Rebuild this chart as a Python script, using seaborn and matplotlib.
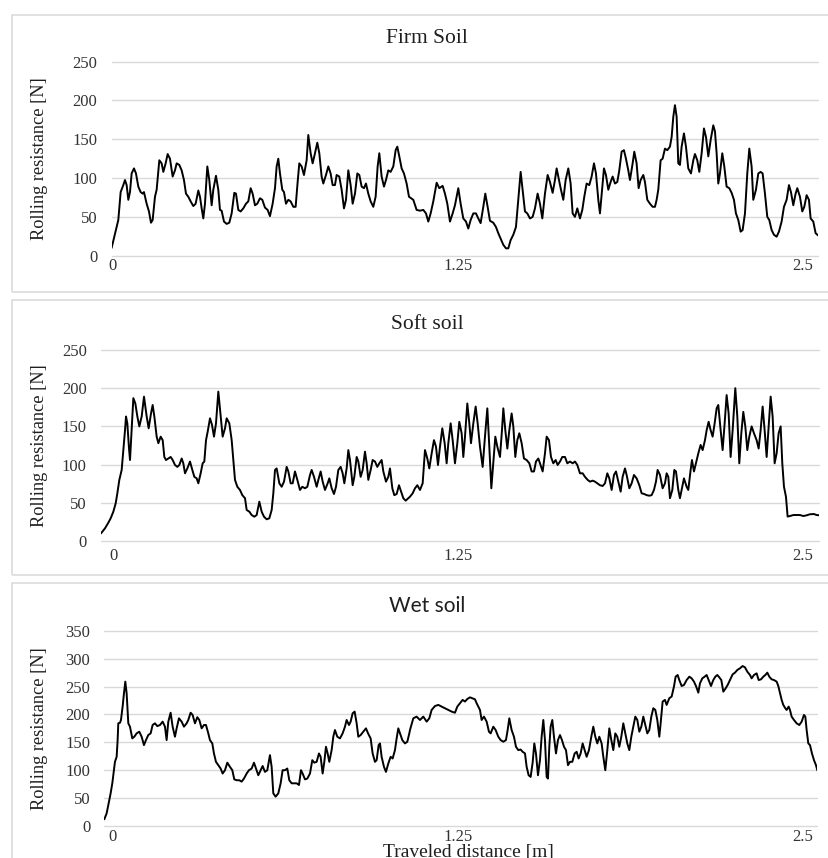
import matplotlib
matplotlib.use("Agg")
import matplotlib.pyplot as plt
import seaborn as sns
from matplotlib.patches import Rectangle

# ---------------- data ----------------
x_ticks = [0, 1.25, 2.5]
x_tick_labels = ["0", "1.25", "2.5"]
y_ticks_firm = [0, 50, 100, 150, 200, 250]
y_ticks_soft = [0, 50, 100, 150, 200, 250]
y_ticks_wet = [0, 50, 100, 150, 200, 250, 300, 350]
titles = ["Firm Soil", "Soft soil", "Wet soil"]
y_label = "Rolling resistance [N]"
x_label = "Traveled distance [m]"

firm_dist = [
    -0.005, 0.0133, 0.0193, 0.0278, 0.0374, 0.0435, 0.0495, 0.0556, 0.0616, 0.0676,
    0.0761, 0.0833, 0.0918, 0.1002, 0.1075, 0.1123, 0.1220, 0.1304, 0.1377, 0.1437,
    0.1522, 0.1582, 0.1679, 0.1763, 0.1824, 0.1908, 0.1981, 0.2065, 0.2162, 0.2246,
    0.2307, 0.2403, 0.2488, 0.2572, 0.2645, 0.2729, 0.2814, 0.2911, 0.2995, 0.3092,
    0.3152, 0.3213, 0.3273, 0.3333, 0.3418, 0.3490, 0.3575, 0.3635, 0.3732, 0.3816,
    0.3877, 0.3937, 0.4022, 0.4118, 0.4215, 0.4300, 0.4396, 0.4457, 0.4541, 0.4626,
    0.4722, 0.4819, 0.4903, 0.4988, 0.5060, 0.5145, 0.5229, 0.5326, 0.5411, 0.5507,
    0.5604, 0.5688, 0.5785, 0.5870, 0.5930, 0.5990, 0.6051, 0.6135, 0.6196, 0.6268,
    0.6353, 0.6437, 0.6534, 0.6618, 0.6691, 0.6751, 0.6836, 0.6920, 0.7017, 0.7077,
    0.7162, 0.7234, 0.7319, 0.7403, 0.7476, 0.7560, 0.7621, 0.7717, 0.7802, 0.7886,
    0.7959, 0.8043, 0.8104, 0.8200, 0.8285, 0.8370, 0.8442, 0.8527, 0.8611, 0.8684,
    0.8768, 0.8853, 0.8925, 0.9010, 0.9094, 0.9167, 0.9251, 0.9336, 0.9432, 0.9517,
    0.9589, 0.9650, 0.9734, 0.9819, 0.9891, 0.9976, 1.0060, 1.0157, 1.0242, 1.0302,
    1.0374, 1.0459, 1.0543, 1.0640, 1.0725,
    1.0882, 1.1002, 1.1123, 1.1244, 1.1341, 1.1425, 1.1510, 1.1606, 1.1727, 1.1824,
    1.1944, 1.2029, 1.2114, 1.2210, 1.2307, 1.2391, 1.2512, 1.2597, 1.2693, 1.2790,
    1.2874, 1.2959, 1.3056, 1.3152, 1.3237, 1.3321, 1.3418, 1.3490, 1.3575, 1.3659,
    1.3780, 1.3877, 1.3961, 1.4046, 1.4143, 1.4239, 1.4324, 1.4408, 1.4505, 1.4601,
    1.4686, 1.4771, 1.4843, 1.4928, 1.5012, 1.5109, 1.5205, 1.5290, 1.5386, 1.5471,
    1.5556, 1.5652, 1.5749, 1.5833, 1.5930, 1.6014, 1.6075, 1.6159, 1.6232, 1.6316,
    1.6401, 1.6498, 1.6582, 1.6655, 1.6739, 1.6824, 1.6920, 1.7005, 1.7077, 1.7162,
    1.7258, 1.7343, 1.7428, 1.7500, 1.7585, 1.7645, 1.7729, 1.7790, 1.7862, 1.7947,
    1.8031, 1.8104, 1.8188, 1.8273, 1.8345, 1.8430, 1.8514, 1.8587, 1.8671, 1.8732,
    1.8829, 1.8889, 1.8973, 1.9046, 1.9118, 1.9215, 1.9275, 1.9360, 1.9457, 1.9553,
    1.9638, 1.9698, 1.9758, 1.9843, 1.9915, 2.0000, 2.0085, 2.0181, 2.0242, 2.0302,
    2.0362, 2.0423, 2.0483, 2.0543, 2.0604, 2.0688, 2.0761, 2.0845, 2.0942, 2.1027,
    2.1087, 2.1171, 2.1244, 2.1329, 2.1413, 2.1486, 2.1570, 2.1655, 2.1751, 2.1812,
    2.1872, 2.1932, 2.1993, 2.2077, 2.2150, 2.2234, 2.2331, 2.2415, 2.2500, 2.2572,
    2.2657, 2.2742, 2.2814, 2.2899, 2.2983, 2.3056, 2.3140, 2.3200, 2.3297, 2.3382,
    2.3466, 2.3539, 2.3623, 2.3708, 2.3780, 2.3865, 2.3949, 2.4046, 2.4130, 2.4227,
    2.4312, 2.4408, 2.4493, 2.4565, 2.4650, 2.4734, 2.4795, 2.4891, 2.4976, 2.5048,
    2.5133, 2.5217, 2.5278, 2.5374, 2.5459, 2.5556,
]
firm_force = [
    10, 37, 46, 82, 91, 97.5, 91, 72, 82, 106,
    112.5, 106, 89, 82, 80, 82, 67, 57, 42.5, 46,
    76, 85, 123, 119, 108, 119, 131, 125, 102, 110,
    119, 117, 110, 97.5, 80, 76, 70, 64, 67, 84,
    76, 61, 48, 67, 115, 97.5, 65, 85, 103, 85,
    59, 58, 44, 41, 42.5, 54.5, 81, 80, 59, 57,
    61, 67, 70, 87, 80, 65, 67, 74, 72, 62,
    59, 51, 67, 87, 115, 125, 106, 85, 82, 67,
    72, 70, 63, 63, 95, 119, 115, 104, 123, 155.5,
    132, 119, 132, 145.6, 132, 102, 93, 104, 115, 106,
    91, 91, 104, 102, 85, 61, 72, 110, 91, 67,
    80, 106, 104, 89, 87, 93, 80, 70, 63, 76,
    115, 132, 102, 89, 97.5, 110, 108, 115, 136, 140.5,
    128, 112.5, 106, 93, 76,
    72, 59, 58, 59, 54.5, 44, 54.5, 70, 94, 87,
    90, 80, 67, 44, 54.5, 65, 87, 67, 48, 44,
    35, 46, 54.5, 54.5, 48, 42, 63, 80, 63, 45,
    42.5, 37, 29, 22, 14, 9.5, 9.5, 20, 27, 37,
    72, 108, 85, 57, 54.5, 48, 50, 61, 80, 67,
    48, 80, 104, 95, 81, 97.5, 112.5, 97.5, 85, 72,
    97.5, 112.5, 93, 54.5, 50, 61, 48, 59, 76, 93,
    91, 102, 119, 106, 72, 54.5, 89, 112.5, 104, 85,
    95, 102, 93, 95, 110, 134, 136, 125, 110, 97.5,
    119, 134, 119, 87, 97.5, 104, 95, 72, 67, 63,
    63, 72, 85, 123, 125, 138, 136, 140.5, 153, 179,
    194, 179, 119, 117, 140.5, 157.6, 140.5, 112.5, 106, 123,
    131, 123, 108, 132, 164, 153, 128, 149, 168, 160,
    132, 93, 106, 132, 115, 89, 87, 81, 72, 54.5,
    46, 31, 33, 54.5, 106, 138, 115, 72, 85, 106,
    108, 106, 80, 50, 46, 33, 27, 24.5, 31, 44,
    63, 72, 91, 82, 65, 80, 87, 76, 57, 63,
    78, 72, 48, 44, 29, 26,
]

soft_dist = [
    -0.0435, -0.0290, -0.0169, -0.0085, 0.0012, 0.0097, 0.0157, 0.0229, 0.0314, 0.0374,
    0.0435, 0.0471, 0.0519, 0.0580, 0.0616, 0.0676, 0.0737, 0.0809, 0.0882, 0.0954,
    0.1039, 0.1123, 0.1220, 0.1292, 0.1377, 0.1437, 0.1498, 0.1582, 0.1643, 0.1727,
    0.1800, 0.1860, 0.1920, 0.2005, 0.2089, 0.2162, 0.2246, 0.2331, 0.2403, 0.2488,
    0.2548, 0.2609, 0.2693, 0.2790, 0.2874, 0.2947, 0.3031, 0.3092, 0.3176, 0.3249,
    0.3309, 0.3370, 0.3430, 0.3514, 0.3587, 0.3659, 0.3732, 0.3816, 0.3901, 0.3973,
    0.4058, 0.4118, 0.4215, 0.4300, 0.4360, 0.4420, 0.4505, 0.4601, 0.4686, 0.4783,
    0.4843, 0.4940, 0.5024, 0.5121, 0.5205, 0.5302, 0.5386, 0.5471, 0.5568, 0.5664,
    0.5749, 0.5809, 0.5870, 0.5930, 0.6027, 0.6111, 0.6196, 0.6292, 0.6353, 0.6437,
    0.6510, 0.6594, 0.6679, 0.6775, 0.6860, 0.6957, 0.7041, 0.7138, 0.7198, 0.7283,
    0.7379, 0.7440, 0.7524, 0.7597, 0.7681, 0.7778, 0.7838, 0.7923, 0.8007, 0.8080,
    0.8164, 0.8249, 0.8321, 0.8382, 0.8466, 0.8527, 0.8587, 0.8684, 0.8744, 0.8829,
    0.8889, 0.8973, 0.9046, 0.9130, 0.9191, 0.9251, 0.9336, 0.9408, 0.9493, 0.9577,
    0.9650, 0.9734, 0.9795, 0.9891, 0.9976, 1.0036, 1.0121, 1.0193, 1.0278, 1.0362,
    1.0459, 1.0519, 1.0604, 1.0700,
    1.0761, 1.0857, 1.0942, 1.1027, 1.1123, 1.1220, 1.1304, 1.1389, 1.1461, 1.1546,
    1.1630, 1.1703, 1.1775, 1.1848, 1.1932, 1.2017, 1.2089, 1.2150, 1.2234, 1.2307,
    1.2391, 1.2476, 1.2548, 1.2633, 1.2693, 1.2754, 1.2838, 1.2911, 1.2971, 1.3056,
    1.3140, 1.3213, 1.3297, 1.3394, 1.3478, 1.3563, 1.3635, 1.3708, 1.3780, 1.3853,
    1.3925, 1.4022, 1.4094, 1.4143, 1.4215, 1.4288, 1.4360, 1.4444, 1.4505, 1.4577,
    1.4650, 1.4722, 1.4807, 1.4891, 1.4988, 1.5085, 1.5169, 1.5254, 1.5326, 1.5411,
    1.5471, 1.5568, 1.5652, 1.5713, 1.5797, 1.5870, 1.5954, 1.6039, 1.6111, 1.6196,
    1.6280, 1.6377, 1.6461, 1.6558, 1.6655, 1.6739, 1.6824, 1.6920, 1.7017, 1.7101,
    1.7198, 1.7283, 1.7379, 1.7464, 1.7548, 1.7645, 1.7742, 1.7826, 1.7911, 1.7983,
    1.8068, 1.8152, 1.8225, 1.8309, 1.8394, 1.8466, 1.8551, 1.8611, 1.8708, 1.8792,
    1.8877, 1.8973, 1.9070, 1.9155, 1.9251, 1.9336, 1.9432, 1.9517, 1.9601, 1.9674,
    1.9734, 1.9819, 1.9915, 2.0000, 2.0060, 2.0121, 2.0181, 2.0266, 2.0338, 2.0399,
    2.0483, 2.0543, 2.0628, 2.0688, 2.0785, 2.0845, 2.0930, 2.0978, 2.1051, 2.1123,
    2.1208, 2.1292, 2.1365, 2.1449, 2.1510, 2.1582, 2.1655, 2.1727, 2.1800, 2.1872,
    2.1932, 2.2017, 2.2089, 2.2162, 2.2234, 2.2307, 2.2379, 2.2452, 2.2548, 2.2621,
    2.2693, 2.2766, 2.2838, 2.2911, 2.2983, 2.3056, 2.3140, 2.3225, 2.3321, 2.3394,
    2.3466, 2.3539, 2.3611, 2.3684, 2.3756, 2.3829, 2.3901, 2.3973, 2.4046, 2.4118,
    2.4191, 2.4251, 2.4312, 2.4384, 2.4444, 2.4529, 2.4650, 2.4771, 2.4891, 2.5012,
    2.5133, 2.5254, 2.5399, 2.5495, 2.5592,
]
soft_force = [
    10, 16.6, 24, 29.7, 38.4, 49.3, 62.4, 80, 93, 119,
    145, 163, 154, 121, 106, 145, 187, 180, 163, 150,
    163, 189, 163, 147.5, 167, 178, 163, 136.6, 128, 136.6,
    132, 110, 106, 108, 110, 106, 99.5, 97, 99.5, 108,
    101.7, 88.6, 95, 104, 93, 84, 82, 75.5, 88.6, 101.7,
    104, 132, 143, 160.6, 152, 136.6, 154, 195.5, 163, 136.6,
    147.5, 160.6, 154, 132, 106, 80, 71, 66.8, 60, 56,
    40.6, 38.4, 34, 31.8, 34, 51.5, 38.4, 31.8, 28.4, 29.7,
    40.6, 62.4, 93, 95, 75.5, 71, 77.7, 97, 91, 75.5,
    75.5, 91, 80, 66.8, 71, 69, 71, 86.4, 93, 84,
    71, 80, 91, 77.7, 66.8, 75.5, 82, 69, 61.5, 71,
    93, 97, 88.6, 75.5, 95, 119, 106, 73, 84, 110,
    104, 84, 93, 117, 101.7, 80, 93, 106, 104, 97,
    101.7, 106, 91, 77.7, 84, 95, 69, 60, 61.5, 73,
    62.4, 56, 52.8, 56,
    58, 62.4, 69, 73, 66.8, 75.5, 119, 108, 95, 114.7,
    132, 123.5, 99.5, 123.5, 147.5, 128, 101.7, 128, 154, 132,
    101.7, 128, 156, 141, 110, 136.6, 180, 154, 128, 154,
    176, 154, 123.5, 97, 136.6, 173.6, 123.5, 69, 101.7, 136.6,
    123.5, 110, 145, 173.6, 145, 121, 145, 167, 150, 110,
    132, 141, 128, 108, 106, 101.7, 91, 91, 104, 108,
    101.7, 91, 114.7, 136.6, 132, 110, 101.7, 106, 99.5, 104,
    110, 110, 101.7, 104, 101.7, 104, 99.5, 88.6, 88.6, 84,
    80, 77.7, 79, 77.7, 75.5, 73, 72, 75.5, 88.6, 82,
    66.8, 86.4, 91, 77.7, 64.6, 84, 95, 86.4, 69, 75.5,
    86.4, 82, 73, 62.4, 61.5, 60, 59.3, 60, 66.8, 77.7,
    93, 86.4, 69, 75.5, 88.6, 84, 56, 66.8, 93, 91,
    66.8, 56, 71, 82, 71, 66.8, 93, 106, 91, 101.7,
    114.7, 125.7, 119, 132, 145, 156, 145, 136.6, 154, 173.6,
    178, 145, 119, 154, 191, 167, 110, 145, 200, 163,
    101.7, 141, 169, 150, 119, 136.6, 150, 141, 132, 121,
    145, 176, 145, 110, 150, 189, 163, 101.7, 114.7, 141,
    150, 101.7, 71, 58, 32, 32.7, 34, 34, 34, 32.7,
    33.6, 35, 35.3, 34, 33.6,
]

wet_dist = [
    -0.0314, -0.0229, -0.0157, -0.0085, -0.0024, 0.0036, 0.0072, 0.0133, 0.0169, 0.0193,
    0.0254, 0.0290, 0.0350, 0.0399, 0.0447, 0.0495, 0.0556, 0.0616, 0.0700, 0.0773,
    0.0857, 0.0954, 0.1039, 0.1123, 0.1196, 0.1280, 0.1365, 0.1437, 0.1522, 0.1606,
    0.1703, 0.1800, 0.1884, 0.1944, 0.2005, 0.2089, 0.2162, 0.2246, 0.2307, 0.2391,
    0.2488, 0.2572, 0.2669, 0.2729, 0.2814, 0.2886, 0.2971, 0.3056, 0.3128, 0.3213,
    0.3297, 0.3370, 0.3454, 0.3514, 0.3599, 0.3659, 0.3732, 0.3816, 0.3901, 0.3973,
    0.4058, 0.4143, 0.4239, 0.4324, 0.4396, 0.4481, 0.4577, 0.4662, 0.4746, 0.4843,
    0.4928, 0.5024, 0.5109, 0.5181, 0.5266, 0.5350, 0.5423, 0.5507, 0.5592, 0.5688,
    0.5749, 0.5809, 0.5894, 0.5990, 0.6075, 0.6147, 0.6232, 0.6316, 0.6389, 0.6473,
    0.6570, 0.6655, 0.6739, 0.6812, 0.6872, 0.6957, 0.7041, 0.7138, 0.7222, 0.7295,
    0.7379, 0.7464, 0.7524, 0.7597, 0.7657, 0.7717, 0.7778, 0.7838, 0.7923, 0.7983,
    0.8043, 0.8128, 0.8225, 0.8321, 0.8406, 0.8466, 0.8551, 0.8611, 0.8684, 0.8756,
    0.8829, 0.8889, 0.8973, 0.9070, 0.9167, 0.9251, 0.9336, 0.9408, 0.9493, 0.9553,
    0.9626, 0.9674, 0.9734, 0.9819, 0.9891, 0.9976, 1.0060, 1.0133, 1.0217, 1.0278,
    1.0338, 1.0399, 1.0483, 1.0580, 1.0664, 1.0737,
    1.0761, 1.0882, 1.1002, 1.1123, 1.1244, 1.1365, 1.1461, 1.1546, 1.1667, 1.1787,
    1.1908, 1.2029, 1.2150, 1.2271, 1.2391, 1.2476, 1.2572, 1.2669, 1.2754, 1.2838,
    1.2935, 1.3031, 1.3116, 1.3176, 1.3297, 1.3357, 1.3442, 1.3539, 1.3623, 1.3684,
    1.3780, 1.3865, 1.3961, 1.4046, 1.4143, 1.4239, 1.4300, 1.4360, 1.4444, 1.4529,
    1.4601, 1.4686, 1.4771, 1.4843, 1.4928, 1.4988, 1.5060, 1.5133, 1.5205, 1.5266,
    1.5326, 1.5399, 1.5471, 1.5531, 1.5592, 1.5652, 1.5713, 1.5761, 1.5809, 1.5857,
    1.5918, 1.5978, 1.6051, 1.6123, 1.6196, 1.6268, 1.6341, 1.6413, 1.6486, 1.6558,
    1.6643, 1.6727, 1.6800, 1.6872, 1.6944, 1.7017, 1.7089, 1.7162, 1.7246, 1.7331,
    1.7403, 1.7476, 1.7548, 1.7621, 1.7705, 1.7766, 1.7838, 1.7911, 1.7983, 1.8056,
    1.8128, 1.8200, 1.8273, 1.8345, 1.8418, 1.8490, 1.8563, 1.8635, 1.8708, 1.8780,
    1.8853, 1.8925, 1.8998, 1.9070, 1.9143, 1.9215, 1.9287, 1.9360, 1.9432, 1.9505,
    1.9577, 1.9650, 1.9722, 1.9795, 1.9843, 1.9915, 2.0000, 2.0060, 2.0157, 2.0242,
    2.0326, 2.0386, 2.0459, 2.0519, 2.0604, 2.0688, 2.0785, 2.0882, 2.0966, 2.1051,
    2.1123, 2.1208, 2.1268, 2.1353, 2.1437, 2.1510, 2.1582, 2.1667, 2.1751, 2.1824,
    2.1896, 2.1969, 2.2041, 2.2114, 2.2198, 2.2271, 2.2355, 2.2452, 2.2536, 2.2621,
    2.2717, 2.2814, 2.2899, 2.2983, 2.3080, 2.3140, 2.3225, 2.3321, 2.3394, 2.3478,
    2.3563, 2.3635, 2.3708, 2.3780, 2.3865, 2.3949, 2.4046, 2.4106, 2.4167, 2.4227,
    2.4287, 2.4360, 2.4408, 2.4481, 2.4529, 2.4589, 2.4674, 2.4771, 2.4867, 2.4952,
    2.5036, 2.5085, 2.5133, 2.5193, 2.5254, 2.5326, 2.5399, 2.5471, 2.5519,
]
wet_force = [
    12, 22.7, 40.6, 58.5, 76.5, 100, 115, 124, 154, 184,
    185, 190, 214, 238, 258.7, 238, 184, 178, 157, 160,
    166, 169, 160, 145, 154, 163, 166, 181, 184, 179,
    181, 187, 178, 154, 187, 203, 178, 160, 175, 193,
    187, 178, 184, 190, 203, 199, 184, 195, 190, 175,
    181, 181, 166, 154, 148, 130, 115, 109, 103, 94,
    100, 113.5, 106, 100, 83.6, 82, 82, 79.5, 85, 94,
    100, 103, 113.5, 103, 91, 100, 107.5, 97, 100, 127,
    106, 58.5, 52.6, 58.5, 76.5, 100, 100, 103, 82, 76.5,
    76.5, 76.5, 73.5, 100, 94, 83.6, 85, 94, 118, 113.5,
    115, 130, 124, 94, 115, 142, 130, 115, 136, 160,
    172, 160, 157, 166, 178, 190, 181, 187, 202, 205,
    184, 160, 163, 169, 175, 165, 157, 130, 115, 118,
    145, 148, 124, 106, 97, 112, 124, 121, 136, 157,
    175, 166, 154, 148, 151, 166,
    172, 193, 196, 190, 196, 187, 193, 208, 215, 217,
    214, 211, 208, 205, 203, 214, 220, 226, 223, 227.6,
    230.6, 228.8, 227, 220, 208, 190, 196, 187, 169, 166,
    178, 172, 160, 154, 151, 154, 172, 193, 172, 160,
    142, 136, 137, 133, 130, 106, 91, 88, 113.5, 148,
    130, 91, 118, 160, 190, 154, 88, 85, 142, 178,
    190, 160, 130, 154, 163, 154, 142, 136, 109, 115,
    115, 130, 133, 121, 130, 148, 136, 124, 136, 160,
    178, 160, 148, 160, 148, 124, 100, 136, 175, 154,
    136, 166, 160, 142, 160, 184, 166, 148, 136, 160,
    178, 196, 190, 169, 178, 196, 181, 166, 172, 196,
    211, 208, 190, 160, 184, 223, 226, 217, 229, 232,
    250, 267.6, 270.6, 261.6, 250.9, 252.7, 261.6, 267.6, 264.6, 258.7,
    250.9, 239, 255.7, 264.6, 267.6, 270.6, 261.6, 250.9, 261.6, 267.6,
    270.6, 266.4, 261.6, 240.7, 246.7, 252.7, 261.6, 271.8, 274.8, 279.6,
    282.6, 286.7, 284.3, 276.6, 270.6, 264.6, 270.6, 273.6, 261.6, 262.8,
    267.6, 270.6, 274.8, 267.6, 262.8, 261.6, 258.7, 250.9, 238, 226,
    217, 211, 208, 214, 208, 196, 190, 184, 181, 187,
    199, 196, 172, 148, 145, 130, 118, 109, 100,
]

# ---------------- styling / layout ----------------
sns.set_theme(style="white")
SERIF = ["Liberation Serif", "DejaVu Serif"]
SANS = ["Lato", "DejaVu Sans"]
plt.rcParams["font.family"] = SERIF

W, H = 829, 858
fig = plt.figure(figsize=(W / 100, H / 100), dpi=100)
fig.patch.set_facecolor("white")

GRID = "#d9d9d9"
TXT = "#1f1f1f"
TICK = "#333333"


def fx(px):
    return px / W


def fy(py):
    return 1 - py / H


# panel frames (pixel coords: left, top, bottom)
frames = [(11.7, 15.0, 291.7), (11.7, 300.0, 574.5), (11.7, 583.0, 870.0)]
for (l, t, b) in frames:
    fig.add_artist(Rectangle((fx(l), fy(b)), fx(W + 20 - l), fy(t) - fy(b),
                             transform=fig.transFigure, fill=False,
                             ec=GRID, lw=1.1, zorder=0))

panels = [
    dict(dist=firm_dist, force=firm_force, yticks=y_ticks_firm, title=titles[0],
         box=(111.6, 61.7, 818.3, 255.7), title_base=43.3, tfont=SERIF, tsize=15.5,
         xpad=1.6),
    dict(dist=soft_dist, force=soft_force, yticks=y_ticks_soft, title=titles[1],
         box=(101.0, 350.0, 819.3, 541.0), title_base=329.3, tfont=SERIF, tsize=15.5,
         xpad=4.8),
    dict(dist=wet_dist, force=wet_force, yticks=y_ticks_wet, title=titles[2],
         box=(104.3, 630.7, 817.3, 826.0), title_base=611.7, tfont=SANS, tsize=15,
         xpad=2.2),
]

for i, p in enumerate(panels):
    l, t, r, b = p["box"]
    ax = fig.add_axes([fx(l), fy(b), fx(r) - fx(l), fy(t) - fy(b)])
    ax.set_facecolor("none")
    sns.lineplot(x=p["dist"], y=p["force"], ax=ax, color="black",
                 linewidth=1.4, estimator=None, sort=False)
    ax.set_xlim(min(p["dist"]), max(p["dist"]))
    ax.set_ylim(p["yticks"][0], p["yticks"][-1])
    ax.set_yticks(p["yticks"])
    ax.set_yticklabels([str(v) for v in p["yticks"]])
    ax.set_xticks(x_ticks)
    ax.set_xticklabels(x_tick_labels)
    for s in ax.spines.values():
        s.set_visible(False)
    ax.grid(axis="y", color=GRID, lw=1.0)
    ax.grid(axis="x", visible=False)
    ax.set_axisbelow(True)
    for gl in ax.get_ygridlines():
        gl.set_clip_on(False)
    ax.tick_params(axis="both", length=0, labelsize=12, labelcolor=TICK)
    ax.tick_params(axis="y", pad=10.2)
    ax.tick_params(axis="x", pad=p["xpad"])

    ax.set_title(p["title"], family=p["tfont"], fontsize=p["tsize"], color=TXT,
                 x=(427 - l) / (r - l), y=(b - p["title_base"]) / (b - t),
                 va="baseline", ha="center", pad=0)

    ax.set_ylabel(y_label, fontsize=13.2, color=TXT, va="center")
    ax.yaxis.set_label_coords(fx(39.5), fy((t + b) / 2), transform=fig.transFigure)
    if i == 2:
        ax.set_xlabel(x_label, fontsize=14, color=TXT, va="top")
        ax.xaxis.set_label_coords(fx(468), fy(844), transform=fig.transFigure)
    else:
        ax.set_xlabel("")

fig.savefig("out.png", dpi=100, facecolor="white")
